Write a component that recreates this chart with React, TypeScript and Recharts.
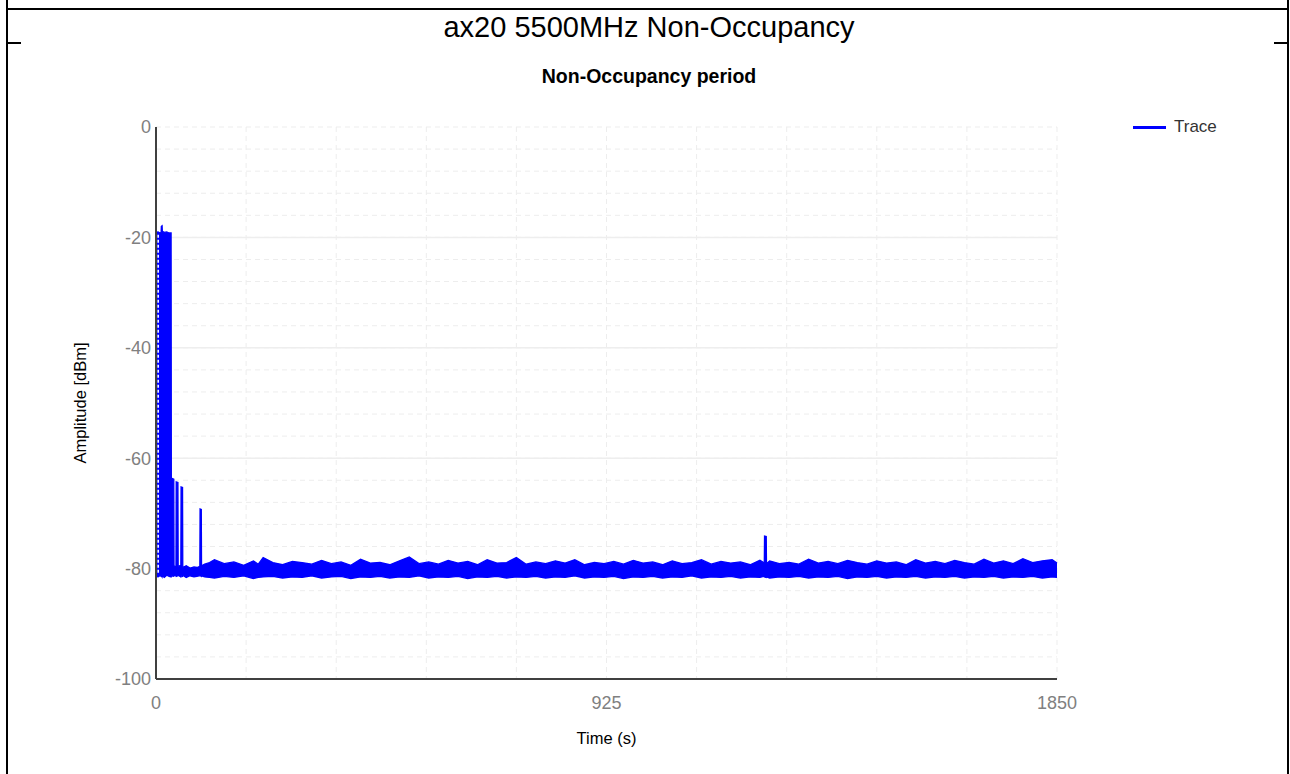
import {
  Area,
  CartesianGrid,
  ComposedChart,
  Legend,
  ReferenceLine,
  XAxis,
  YAxis,
} from "recharts";

// trace envelope: [time (s), floor (dBm), peak (dBm)]
const burstTrace: [number, number, number][] = [
  [1, -81.2, -19.3],
  [4, -81.5, -19.0],
  [8, -81.3, -19.2],
  [10.5, -81.4, -19.1],
  [11, -81.2, -18.0],
  [12.5, -81.5, -17.9],
  [13, -81.3, -18.9],
  [17, -81.6, -19.1],
  [22, -81.2, -19.0],
  [27, -81.4, -19.2],
  [31, -81.5, -19.2],
  [31.5, -81.3, -63.6],
  [36.5, -81.4, -63.8],
  [37, -81.2, -79.5],
  [41, -81.3, -79.7],
  [41.5, -81.4, -64.3],
  [45, -81.3, -64.4],
  [45.5, -81.2, -79.6],
  [51, -81.5, -79.4],
  [51.5, -81.3, -65.2],
  [54.5, -81.4, -65.3],
  [55, -81.2, -79.8],
  [62, -81.6, -79.5],
  [70, -81.3, -79.9],
  [78, -81.5, -79.7],
  [84, -81.4, -79.8],
  [90, -81.3, -79.6],
  [90.5, -81.2, -69.2],
  [93, -81.4, -69.3],
  [93.5, -81.3, -79.5],
];

const noiseTrace: [number, number, number][] = [
  [100, -81.5, -79.2],
  [110, -81.6, -78.9],
  [120, -81.7, -78.4],
  [140, -81.4, -79.1],
  [160, -81.6, -78.8],
  [180, -81.3, -79.4],
  [200, -81.8, -78.6],
  [210, -81.6, -79.2],
  [220, -81.5, -78.0],
  [240, -81.4, -78.9],
  [260, -81.7, -79.3],
  [280, -81.5, -78.7],
  [300, -81.6, -78.9],
  [320, -81.3, -79.2],
  [340, -81.7, -78.5],
  [360, -81.5, -79.1],
  [380, -81.4, -78.8],
  [400, -81.8, -79.4],
  [420, -81.5, -78.3],
  [440, -81.6, -79.0],
  [460, -81.4, -78.9],
  [480, -81.7, -79.3],
  [500, -81.5, -78.6],
  [520, -81.6, -77.9],
  [540, -81.3, -79.1],
  [560, -81.7, -78.8],
  [580, -81.5, -79.2],
  [600, -81.6, -78.5],
  [620, -81.4, -79.0],
  [640, -81.8, -78.7],
  [660, -81.5, -79.3],
  [680, -81.6, -78.4],
  [700, -81.4, -79.0],
  [720, -81.7, -78.9],
  [740, -81.5, -78.0],
  [760, -81.6, -79.2],
  [780, -81.4, -78.8],
  [800, -81.7, -79.1],
  [820, -81.5, -78.6],
  [840, -81.6, -79.0],
  [860, -81.3, -78.4],
  [880, -81.7, -79.3],
  [900, -81.5, -78.9],
  [920, -81.6, -79.1],
  [940, -81.4, -78.7],
  [960, -81.8, -79.2],
  [980, -81.5, -78.5],
  [1000, -81.6, -79.0],
  [1020, -81.4, -78.8],
  [1040, -81.7, -79.3],
  [1060, -81.5, -78.6],
  [1080, -81.6, -79.1],
  [1100, -81.3, -78.9],
  [1120, -81.7, -78.4],
  [1140, -81.5, -79.2],
  [1160, -81.6, -78.7],
  [1180, -81.4, -79.0],
  [1200, -81.7, -78.8],
  [1220, -81.5, -79.3],
  [1240, -81.6, -78.5],
  [1249, -81.4, -79.0],
  [1249.5, -81.5, -74.1],
  [1253, -81.6, -74.2],
  [1253.5, -81.5, -79.1],
  [1260, -81.7, -78.6],
  [1280, -81.5, -79.1],
  [1300, -81.6, -78.9],
  [1320, -81.4, -79.2],
  [1340, -81.7, -78.3],
  [1360, -81.5, -79.0],
  [1380, -81.6, -78.7],
  [1400, -81.4, -79.1],
  [1420, -81.8, -78.5],
  [1440, -81.5, -78.9],
  [1460, -81.6, -79.2],
  [1480, -81.4, -78.6],
  [1500, -81.7, -79.0],
  [1520, -81.5, -78.8],
  [1540, -81.6, -79.3],
  [1560, -81.4, -78.4],
  [1580, -81.7, -79.0],
  [1600, -81.5, -78.7],
  [1620, -81.6, -79.1],
  [1640, -81.4, -78.5],
  [1660, -81.7, -78.9],
  [1680, -81.5, -79.2],
  [1700, -81.6, -78.3],
  [1720, -81.4, -79.0],
  [1740, -81.7, -78.6],
  [1760, -81.5, -79.1],
  [1780, -81.6, -78.2],
  [1800, -81.4, -78.9],
  [1820, -81.7, -78.6],
  [1840, -81.5, -78.4],
  [1850, -81.6, -79.0],
];

const timeTicks = [0, 185, 370, 555, 740, 925, 1110, 1295, 1480, 1665, 1850];
const timeLabels = [0, 925, 1850];
const ampTicks = [
  0, -4, -8, -12, -16, -20, -24, -28, -32, -36, -40, -44, -48, -52, -56, -60,
  -64, -68, -72, -76, -80, -84, -88, -92, -96, -100,
];
const ampLabels = [0, -20, -40, -60, -80, -100];
const majorGrid = [-20, -40, -60, -80];

const FONT = '"Liberation Sans", Arial, sans-serif';

const data = [...burstTrace, ...noiseTrace].map(([time, low, high]) => ({
  time,
  trace: [low, high],
}));

const TraceLegend = () => (
  <div
    style={{
      display: "flex",
      alignItems: "center",
      fontFamily: FONT,
      fontSize: 17,
      color: "#333",
      whiteSpace: "nowrap",
    }}
  >
    <span
      style={{
        display: "inline-block",
        width: 33,
        height: 3,
        background: "#0000ff",
        marginRight: 8,
      }}
    />
    Trace
  </div>
);

export default function App() {
  return (
    <div
      style={{
        position: "absolute",
        top: 0,
        left: 0,
        width: 1290,
        height: 774,
        background: "#fff",
        fontFamily: FONT,
        overflow: "hidden",
      }}
    >
      {/* frame */}
      <div style={{ position: "absolute", left: 6, top: 0, width: 1.5, height: 774, background: "#000" }} />
      <div style={{ position: "absolute", left: 1287, top: 0, width: 1.5, height: 774, background: "#000" }} />
      <div style={{ position: "absolute", left: 6, top: 8, width: 1283, height: 1.5, background: "#000" }} />
      <div style={{ position: "absolute", left: 6, top: 42, width: 15, height: 1.5, background: "#000" }} />
      <div style={{ position: "absolute", left: 1274, top: 42, width: 14, height: 1.5, background: "#000" }} />

      <div
        style={{
          position: "absolute",
          top: 13,
          left: 649,
          transform: "translateX(-50%)",
          fontSize: 29,
          lineHeight: "29px",
          color: "#000",
          whiteSpace: "nowrap",
        }}
      >
        ax20 5500MHz Non-Occupancy
      </div>
      <div
        style={{
          position: "absolute",
          top: 67,
          left: 649,
          transform: "translateX(-50%)",
          fontSize: 19.5,
          lineHeight: "19px",
          fontWeight: "bold",
          color: "#000",
          whiteSpace: "nowrap",
        }}
      >
        Non-Occupancy period
      </div>

      <ComposedChart
        width={1290}
        height={774}
        data={data}
        margin={{ top: 127, right: 233, bottom: 65, left: 96 }}
        style={{ position: "absolute", top: 0, left: 0 }}
      >
        <CartesianGrid stroke="#ededed" strokeDasharray="5 4" />
        {majorGrid.map((v) => (
          <ReferenceLine key={v} y={v} stroke="#eeeeee" strokeWidth={1.5} zIndex={-50} />
        ))}
        <XAxis
          type="number"
          dataKey="time"
          domain={[0, 1850]}
          ticks={timeTicks}
          interval={0}
          tickFormatter={(v: number) => (timeLabels.includes(v) ? String(v) : "")}
          tickLine={false}
          tickSize={6}
          tickMargin={11}
          height={30}
          axisLine={{ stroke: "#404040", strokeWidth: 2 }}
          tick={{ fill: "#808080", fontSize: 18, fontFamily: FONT }}
          label={{
            value: "Time (s)",
            position: "center",
            dy: 44,
            fill: "#000",
            fontSize: 16.5,
            fontFamily: FONT,
          }}
        />
        <YAxis
          type="number"
          domain={[-100, 0]}
          ticks={ampTicks}
          interval={0}
          allowDataOverflow
          tickFormatter={(v: number) => (ampLabels.includes(v) ? String(v) : "")}
          tickLine={false}
          tickSize={5}
          tickMargin={0}
          width={60}
          axisLine={{ stroke: "#404040", strokeWidth: 2 }}
          tick={{ fill: "#808080", fontSize: 18, fontFamily: FONT }}
          label={{
            value: "Amplitude [dBm]",
            angle: -90,
            position: "center",
            dx: -46,
            fill: "#000",
            fontSize: 16.5,
            fontFamily: FONT,
          }}
        />
        <Legend
          layout="horizontal"
          verticalAlign="middle"
          align="center"
          wrapperStyle={{ top: 117, left: 1133, width: 120, height: 20 }}
          content={() => <TraceLegend />}
        />
        <Area
          type="linear"
          dataKey="trace"
          name="Trace"
          stroke="#0000ff"
          strokeWidth={1.3}
          fill="#0000ff"
          fillOpacity={1}
          dot={false}
          activeDot={false}
          isAnimationActive={false}
        />
        <ReferenceLine
          segment={[
            { x: 4.5, y: -19.5 },
            { x: 4.5, y: -81 },
          ]}
          stroke="#ffffff"
          strokeWidth={1.5}
          strokeDasharray="3 2"
          zIndex={500}
        />
      </ComposedChart>
    </div>
  );
}
